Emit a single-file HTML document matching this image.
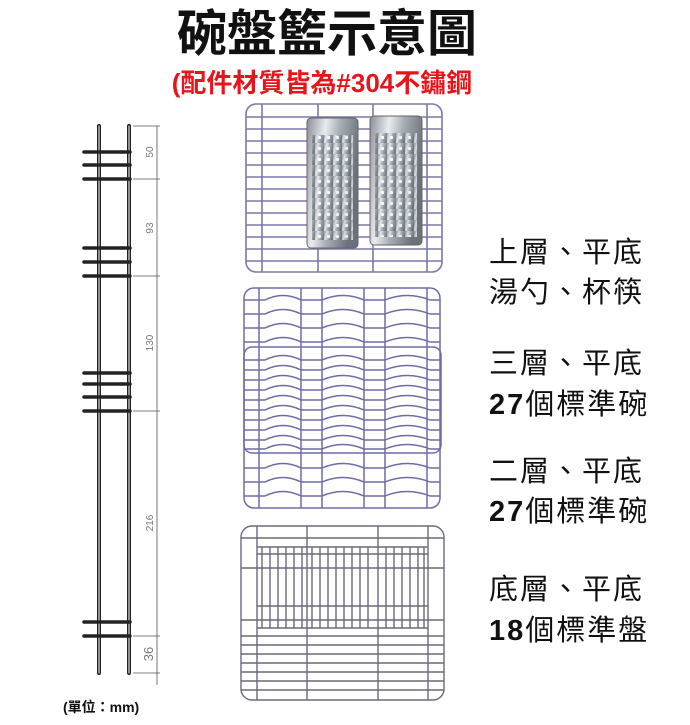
<!DOCTYPE html>
<html><head><meta charset="utf-8"><style>
html,body{margin:0;padding:0;background:#fff;}
svg{display:block}
</style></head><body>
<svg width="690" height="725" viewBox="0 0 690 725" xmlns="http://www.w3.org/2000/svg">
<defs>
<path id="w" d="M244,0H265Q283,-9 301,0H322Q343,-9 364,0H385Q407,-9 430,0H440"/>
<linearGradient id="st" x1="0" x2="1" y1="0" y2="0.3">
<stop offset="0" stop-color="#8a8f96"/><stop offset="0.35" stop-color="#e8ecef"/><stop offset="0.6" stop-color="#a9b0b8"/><stop offset="1" stop-color="#6b7178"/>
</linearGradient>
<pattern id="holes" width="9" height="11" patternUnits="userSpaceOnUse"><rect width="9" height="11" fill="url(#st)"/><circle cx="4.5" cy="5.5" r="1.6" fill="#fff"/></pattern>
</defs>
<text x="327" y="51" font-size="50" font-weight="bold" text-anchor="middle" fill="#111" style="font-family:'Liberation Sans','Noto Sans CJK TC',sans-serif">碗盤籃示意圖</text>
<text x="322" y="92" font-size="26" font-weight="bold" text-anchor="middle" fill="#e8141c" style="font-family:'Liberation Sans','Noto Sans CJK TC',sans-serif">(配件材質皆為#304不鏽鋼</text>

<!-- left side diagram -->
<g stroke="#222" stroke-linecap="round">
<line x1="99" y1="126" x2="99" y2="673" stroke-width="4"/>
<line x1="129" y1="126" x2="129" y2="673" stroke-width="4"/>
<line x1="99" y1="126" x2="99" y2="673" stroke="#fff" stroke-width="1"/>
<line x1="129" y1="126" x2="129" y2="673" stroke="#fff" stroke-width="1"/>
<g stroke-width="3.5">
<line x1="84" y1="152" x2="130" y2="152"/><line x1="84" y1="165" x2="130" y2="165"/><line x1="84" y1="179" x2="130" y2="179"/>
<line x1="84" y1="248" x2="130" y2="248"/><line x1="84" y1="262" x2="130" y2="262"/><line x1="84" y1="276" x2="130" y2="276"/>
<line x1="84" y1="373" x2="130" y2="373"/><line x1="84" y1="384" x2="130" y2="384"/><line x1="84" y1="397" x2="130" y2="397"/><line x1="84" y1="411" x2="130" y2="411"/>
<line x1="84" y1="622" x2="130" y2="622"/><line x1="84" y1="636" x2="130" y2="636"/>
</g>
</g>
<g stroke="#555" stroke-width="0.8">
<line x1="157" y1="126" x2="157" y2="685"/>
<line x1="133" y1="126" x2="160" y2="126"/><line x1="133" y1="179" x2="160" y2="179"/>
<line x1="133" y1="276" x2="160" y2="276"/><line x1="133" y1="411" x2="160" y2="411"/>
<line x1="133" y1="636" x2="160" y2="636"/><line x1="133" y1="673" x2="160" y2="673"/>
</g>
<g fill="#777" font-size="10" font-family="Liberation Sans,sans-serif" text-anchor="middle">
<text transform="translate(153,152) rotate(-90)">50</text>
<text transform="translate(153,228) rotate(-90)">93</text>
<text transform="translate(153,343) rotate(-90)">130</text>
<text transform="translate(153,523) rotate(-90)">216</text>
<text transform="translate(153,654) rotate(-90)" font-size="13">36</text>
</g>
<text x="63" y="712" font-size="14" font-weight="bold" fill="#111" style="font-family:'Liberation Sans','Noto Sans CJK TC',sans-serif">(單位：mm)</text>

<!-- top rack -->
<g stroke="#7a78a8" stroke-width="1.6" fill="none">
<rect x="246" y="104" width="196" height="168" rx="10"/>
<line x1="318" y1="104" x2="318" y2="272"/><line x1="373" y1="104" x2="373" y2="272"/>
<line x1="262" y1="104" x2="262" y2="272"/><line x1="427" y1="104" x2="427" y2="272"/>
<path d="M246,117H442M246,129H442M246,141H442M246,153H442M246,165H442M246,177H442M246,189H442M246,201H442M246,213H442M246,225H442M246,237H442M246,249H442M246,261H442"/>
</g>
<rect x="307" y="118" width="51" height="130" rx="4" fill="url(#st)" stroke="#666"/>
<rect x="312" y="135" width="41" height="105" fill="url(#holes)" opacity="0.85"/>
<rect x="370" y="116" width="52" height="129" rx="4" fill="url(#st)" stroke="#666"/>
<rect x="375" y="133" width="42" height="104" fill="url(#holes)" opacity="0.85"/>

<!-- bowl racks -->
<g stroke="#6e6ca6" stroke-width="1.5" fill="none">
<rect x="244" y="288" width="196" height="220" rx="10"/>
<rect x="244" y="347" width="197" height="106" rx="8"/>
<line x1="301" y1="288" x2="301" y2="508"/><line x1="322" y1="288" x2="322" y2="508"/>
<line x1="364" y1="288" x2="364" y2="508"/><line x1="385" y1="288" x2="385" y2="508"/>
<line x1="259" y1="288" x2="259" y2="508"/><line x1="427" y1="288" x2="427" y2="508"/>
</g>
<g stroke="#6e6ca6" stroke-width="1.4" fill="none">
<use href="#w" y="300"/><use href="#w" y="314"/><use href="#w" y="328"/><use href="#w" y="342"/>
<use href="#w" y="360"/><use href="#w" y="370"/><use href="#w" y="380"/><use href="#w" y="390"/><use href="#w" y="400"/><use href="#w" y="410"/><use href="#w" y="420"/><use href="#w" y="430"/><use href="#w" y="440"/><use href="#w" y="449"/>
<use href="#w" y="468"/><use href="#w" y="482"/><use href="#w" y="496"/>
</g>

<!-- plate rack -->
<g stroke="#6a6a7a" stroke-width="1.4" fill="none">
<rect x="241" y="526" width="203" height="174" rx="11"/>
<line x1="307" y1="526" x2="307" y2="700"/><line x1="378" y1="526" x2="378" y2="700"/>
<line x1="257" y1="526" x2="257" y2="700"/><line x1="428" y1="526" x2="428" y2="700"/>
<path d="M241,538H444M257,547H428M257,554H428M241,568H444M257,606H428M241,620H444M257,628H428M241,636H444M241,645H444M241,654H444M241,663H444M241,672H444M241,681H444M241,690H444"/>
<path d="M262,547V628M270,547V628M278,547V628M286,547V628M294,547V628M302,547V628M312,547V628M320,547V628M328,547V628M336,547V628M344,547V628M352,547V628M360,547V628M368,547V628M386,547V628M394,547V628M402,547V628M410,547V628M418,547V628M424,547V628"/>
</g>

<!-- right labels -->
<g font-size="29" fill="#111" style="font-family:'Liberation Sans','Noto Sans CJK TC',sans-serif" letter-spacing="2">
<text x="489" y="262">上層、平底</text>
<text x="489" y="302">湯勺、杯筷</text>
<text x="489" y="373">三層、平底</text>
<text x="489" y="414"><tspan font-weight="bold">27</tspan>個標準碗</text>
<text x="489" y="481">二層、平底</text>
<text x="489" y="521"><tspan font-weight="bold">27</tspan>個標準碗</text>
<text x="489" y="599">底層、平底</text>
<text x="489" y="640"><tspan font-weight="bold">18</tspan>個標準盤</text>
</g>
</svg>
</body></html>
